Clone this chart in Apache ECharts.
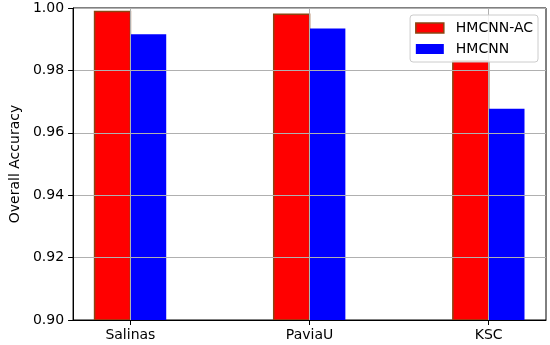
<!DOCTYPE html>
<html>
<head>
<meta charset="utf-8">
<script src="https://cdn.jsdelivr.net/npm/echarts@6/dist/echarts.min.js"></script>
<style>html,body{margin:0;padding:0;background:#fff}#c{width:550px;height:345px}</style>
</head>
<body>
<div id="c"></div>
<script>
const categories = ['Salinas', 'PaviaU', 'KSC'];
const categoryPositions = [0, 1, 2];
const hmcnnAC = [0.9989, 0.998, 0.983];
const hmcnn = [0.9916, 0.9934, 0.9677];
const yTicks = [0.90, 0.92, 0.94, 0.96, 0.98, 1.00];
const barWidthUnits = 0.2;

const font = 'DejaVu Sans';

function barRenderer(offsetSign) {
  return function (params, api) {
    const x = api.value(0);
    const y = api.value(1);
    const top = api.coord([x, y]);
    const base = api.coord([x, yTicks[0]]);
    const w = api.size([barWidthUnits, 0])[0];
    const left = offsetSign < 0 ? top[0] - w : top[0];
    return {
      type: 'rect',
      shape: {x: left, y: top[1], width: w, height: base[1] - top[1]},
      style: api.style()
    };
  };
}

const chart = echarts.init(document.getElementById('c'), null, {renderer: 'canvas'});
chart.setOption({
  animation: false,
  backgroundColor: '#fff',
  textStyle: {fontFamily: font},
  grid: {left: 66, right: 4, top: 8, bottom: 25, show: true, borderColor: '#000', borderWidth: 1, backgroundColor: 'transparent'},
  legend: {
    orient: 'vertical', right: 12, top: 15, z: 20,
    itemWidth: 28, itemHeight: 10, itemGap: 5,
    padding: [5, 5, 5, 5],
    backgroundColor: 'rgba(255,255,255,0.85)', borderColor: '#cccccc', borderWidth: 1, borderRadius: 3,
    textStyle: {fontFamily: font, fontSize: 14, color: '#000', lineHeight: 16, padding: [0, 0, 0, 7]},
    data: [
      {name: 'HMCNN-AC', icon: 'rect', itemStyle: {color: '#ff0000', borderColor: '#8b4513', borderWidth: 1.5}},
      {name: 'HMCNN', icon: 'rect', itemStyle: {color: '#0000ff'}}
    ]
  },
  xAxis: {
    type: 'value', min: -0.32, max: 2.32, z: 5,
    axisLine: {show: true, onZero: false, lineStyle: {color: '#000', width: 1}},
    axisTick: {show: true, length: 5, customValues: categoryPositions, lineStyle: {color: '#000'}},
    axisLabel: {
      customValues: categoryPositions, margin: 8, fontFamily: font, fontSize: 14, color: '#000',
      formatter: v => categories[Math.round(v)]
    },
    splitLine: {show: true, lineStyle: {color: '#b0b0b0', width: 1}}
  },
  yAxis: {
    type: 'value', min: yTicks[0], max: yTicks[yTicks.length - 1], interval: 0.02, z: 5,
    name: 'Overall Accuracy', nameLocation: 'middle', nameGap: 48,
    nameTextStyle: {fontFamily: font, fontSize: 14, color: '#000'},
    axisLine: {show: true, onZero: false, lineStyle: {color: '#000', width: 1}},
    axisTick: {show: true, inside: false, length: 5, lineStyle: {color: '#000'}},
    axisLabel: {margin: 9, fontFamily: font, fontSize: 14, color: '#000', formatter: v => v.toFixed(2)},
    splitLine: {show: true, lineStyle: {color: '#b0b0b0', width: 1}}
  },
  series: [
    {
      name: 'HMCNN-AC', type: 'custom', renderItem: barRenderer(-1),
      encode: {x: 0, y: 1},
      itemStyle: {color: '#ff0000', borderColor: '#8b4513', borderWidth: 1.5},
      data: categoryPositions.map((x, i) => [x, hmcnnAC[i]])
    },
    {
      name: 'HMCNN', type: 'custom', renderItem: barRenderer(1),
      encode: {x: 0, y: 1},
      itemStyle: {color: '#0000ff'},
      data: categoryPositions.map((x, i) => [x, hmcnn[i]])
    }
  ]
});
</script>
</body>
</html>
